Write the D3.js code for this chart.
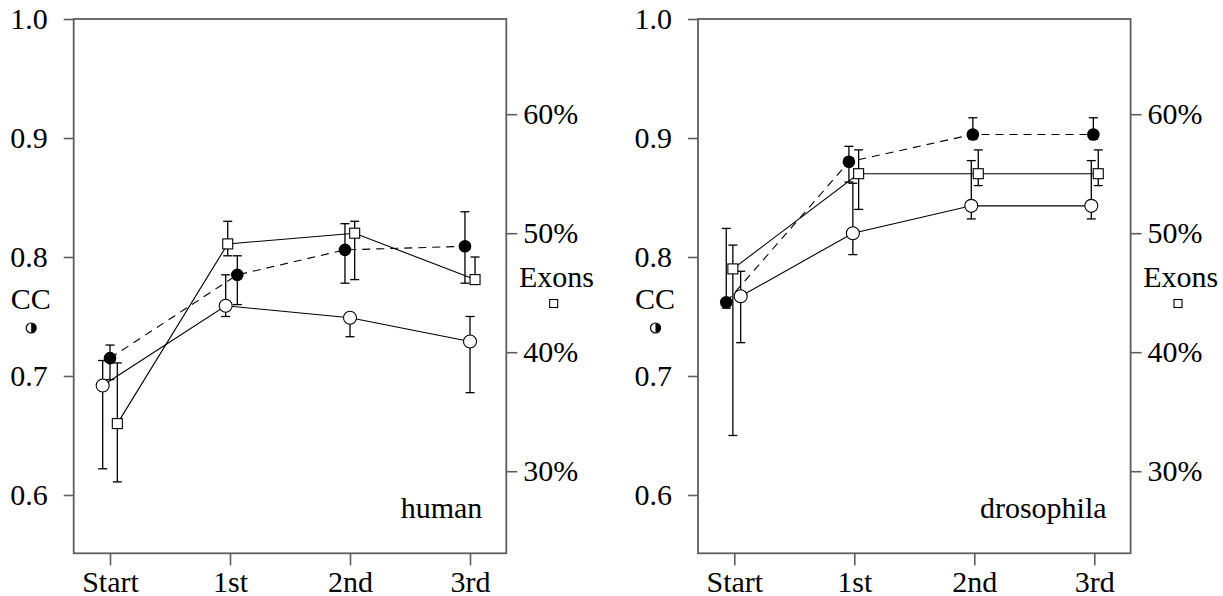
<!DOCTYPE html>
<html>
<head>
<meta charset="utf-8">
<script src="https://cdn.jsdelivr.net/npm/d3@7"></script>
<style>
  body { margin: 0; background: #fff; }
  text { font-family: "Liberation Serif", "Times New Roman", serif; }
</style>
</head>
<body>
<svg width="1223" height="596"></svg>
<script>
// categories and tick values
var categories = ["Start", "1st", "2nd", "3rd"];
var ccTicks = [0.6, 0.7, 0.8, 0.9, 1.0];
var exonTicks = [30, 40, 50, 60];

// human: filled circles (dashed), open circles (solid), exons squares (solid)
var humanFilled     = [0.715, 0.785, 0.806, 0.809];
var humanFilledLow  = [0.697, 0.760, 0.778, 0.778];
var humanFilledHigh = [0.726, 0.801, 0.828, 0.838];
var humanOpen       = [0.692, 0.759, 0.749, 0.729];
var humanOpenLow    = [0.622, 0.750, 0.733, 0.686];
var humanOpenHigh   = [0.713, 0.785, 0.752, 0.750];
var humanExons      = [34.0, 49.1, 50.0, 46.1];
var humanExonsLow   = [29.1, 48.1, 46.1, 45.8];
var humanExonsHigh  = [39.1, 51.0, 51.0, 48.0];
// horizontal dodge of each series, in category steps
var humanDodgeFilled = [0, 0.061, -0.042, -0.042];
var humanDodgeOpen   = [-0.061, -0.036, 0, 0];
var humanDodgeExons  = [0.061, -0.019, 0.039, 0.042];

// drosophila
var drosFilled     = [0.762, 0.880, 0.903, 0.903];
var drosFilledLow  = [0.757, 0.863, 0.899, 0.899];
var drosFilledHigh = [0.824, 0.893, 0.917, 0.917];
var drosOpen       = [0.767, 0.820, 0.843, 0.843];
var drosOpenLow    = [0.728, 0.802, 0.832, 0.832];
var drosOpenHigh   = [0.788, 0.862, 0.881, 0.881];
var drosExons      = [47.0, 55.0, 55.0, 55.0];
var drosExonsLow   = [33.0, 52.0, 54.0, 54.0];
var drosExonsHigh  = [49.0, 57.0, 57.0, 57.0];
var drosDodgeFilled = [-0.067, -0.045, -0.012, -0.008];
var drosDodgeOpen   = [0.053, -0.012, -0.025, -0.025];
var drosDodgeExons  = [-0.012, 0.036, 0.033, 0.033];

var svg = d3.select("svg");
var w = 432.6, h = 534.3;
var fontSize = 30;
var axisColor = "#5e5e5e";

function series(vals, lo, hi, dodge) {
  return vals.map(function(v, i) {
    return { cat: categories[i], v: v, lo: lo[i], hi: hi[i], dx: dodge[i] };
  });
}

function drawPanel(left, name, filled, open, exons) {
  var g = svg.append("g").attr("transform", "translate(" + left + ",19)");

  var x = d3.scalePoint().domain(categories).range([36.3, 396.3]);
  var cc = d3.scaleLinear().domain([0.551, 1.0]).range([h, 0]);
  var ex = d3.scaleLinear().domain([23.1, 68]).range([h, 0]);
  var px = function(d) { return x(d.cat) + d.dx * x.step(); };

  // axes
  var ya = g.append("g")
      .call(d3.axisLeft(cc).tickValues(ccTicks).tickFormat(d3.format(".1f")).tickSize(10).tickPadding(16));
  var yb = g.append("g").attr("transform", "translate(" + w + ",0)")
      .call(d3.axisRight(ex).tickValues(exonTicks).tickFormat(function(d) { return d + "%"; }).tickSize(11).tickPadding(6));
  var xa = g.append("g").attr("transform", "translate(0," + h + ")")
      .call(d3.axisBottom(x).tickSize(12).tickPadding(5));
  [ya, yb, xa].forEach(function(a) {
    a.select(".domain").remove();
    a.selectAll("line").attr("stroke", axisColor).attr("stroke-width", 1.6);
    a.selectAll("text").attr("fill", "#000").style("font-size", fontSize + "px")
      .style("font-family", "'Liberation Serif', serif");
  });

  g.append("rect").attr("width", w).attr("height", h)
      .attr("fill", "none").attr("stroke", axisColor).attr("stroke-width", 1.8);

  // lines
  var line = function(y) {
    return d3.line().x(px).y(function(d) { return y(d.v); });
  };
  g.append("path").datum(filled).attr("d", line(cc))
      .attr("fill", "none").attr("stroke", "#000").attr("stroke-width", 1.1).attr("stroke-dasharray", "8,6");
  g.append("path").datum(open).attr("d", line(cc))
      .attr("fill", "none").attr("stroke", "#000").attr("stroke-width", 1.1);
  g.append("path").datum(exons).attr("d", line(ex))
      .attr("fill", "none").attr("stroke", "#000").attr("stroke-width", 1.1);

  // error bars
  function errorBars(data, y) {
    var eb = g.append("g").selectAll("g").data(data).enter().append("g")
        .attr("stroke", "#000").attr("stroke-width", 1.3);
    eb.append("line").attr("x1", px).attr("x2", px)
        .attr("y1", function(d) { return y(d.lo); }).attr("y2", function(d) { return y(d.hi); });
    eb.append("line").attr("x1", function(d) { return px(d) - 4.5; }).attr("x2", function(d) { return px(d) + 4.5; })
        .attr("y1", function(d) { return y(d.lo); }).attr("y2", function(d) { return y(d.lo); });
    eb.append("line").attr("x1", function(d) { return px(d) - 4.5; }).attr("x2", function(d) { return px(d) + 4.5; })
        .attr("y1", function(d) { return y(d.hi); }).attr("y2", function(d) { return y(d.hi); });
  }
  errorBars(filled, cc);
  errorBars(open, cc);
  errorBars(exons, ex);

  // markers
  g.append("g").selectAll("circle").data(open).enter().append("circle")
      .attr("cx", px).attr("cy", function(d) { return cc(d.v); }).attr("r", 6.5)
      .attr("fill", "#fff").attr("stroke", "#000").attr("stroke-width", 1.1);
  g.append("g").selectAll("circle").data(filled).enter().append("circle")
      .attr("cx", px).attr("cy", function(d) { return cc(d.v); }).attr("r", 6.3)
      .attr("fill", "#000");
  g.append("g").selectAll("rect").data(exons).enter().append("rect")
      .attr("x", function(d) { return px(d) - 5; }).attr("y", function(d) { return ex(d.v) - 5; })
      .attr("width", 10).attr("height", 10)
      .attr("fill", "#fff").attr("stroke", "#000").attr("stroke-width", 1.1);

  // labels
  g.append("text").attr("x", w - 24).attr("y", h - 35).attr("text-anchor", "end")
      .style("font-size", fontSize + "px").text(name);

  g.append("text").attr("x", -43).attr("y", 290).attr("text-anchor", "middle")
      .style("font-size", fontSize + "px").text("CC");
  var cx0 = -42.5, cy0 = 309, r0 = 5;
  g.append("circle").attr("cx", cx0).attr("cy", cy0).attr("r", r0)
      .attr("fill", "#fff").attr("stroke", "#000").attr("stroke-width", 1.2);
  g.append("path")
      .attr("d", "M" + cx0 + "," + (cy0 - r0) + " A" + r0 + "," + r0 + " 0 0 1 " + cx0 + "," + (cy0 + r0) + " Z")
      .attr("fill", "#000");

  g.append("text").attr("x", 445.3).attr("y", 268)
      .style("font-size", fontSize + "px").text("Exons");
  g.append("rect").attr("x", 476).attr("y", 280.5).attr("width", 8).attr("height", 8)
      .attr("fill", "#fff").attr("stroke", "#000").attr("stroke-width", 1.1);
}

drawPanel(73.7, "human",
  series(humanFilled, humanFilledLow, humanFilledHigh, humanDodgeFilled),
  series(humanOpen, humanOpenLow, humanOpenHigh, humanDodgeOpen),
  series(humanExons, humanExonsLow, humanExonsHigh, humanDodgeExons));

drawPanel(698, "drosophila",
  series(drosFilled, drosFilledLow, drosFilledHigh, drosDodgeFilled),
  series(drosOpen, drosOpenLow, drosOpenHigh, drosDodgeOpen),
  series(drosExons, drosExonsLow, drosExonsHigh, drosDodgeExons));
</script>
</body>
</html>
